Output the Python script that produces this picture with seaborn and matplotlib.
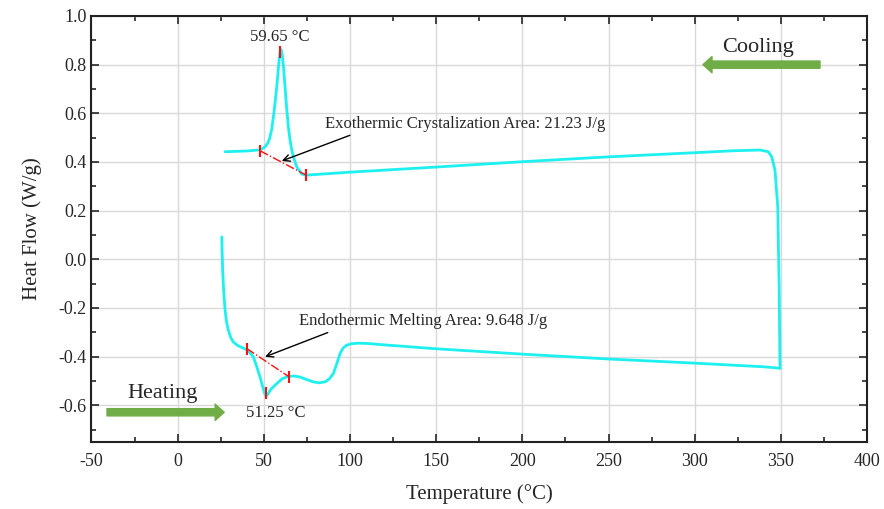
import numpy as np
import pandas as pd
import matplotlib
matplotlib.use("Agg")
import matplotlib.pyplot as plt
import seaborn as sns
from matplotlib.ticker import MultipleLocator

# ---------------- data ----------------
heat_T = [25.6, 25.8, 26.1, 26.7, 27.5, 28.3, 29.4, 30.8, 32.3, 34.5, 37.0, 40.1,
          42.0, 43.9, 45.8, 47.8, 49.5, 50.5, 51.25, 52.3, 54.0, 57.5, 60.5, 64.2,
          67.5, 71.0, 75.0, 78.7, 82.0, 85.5, 88.0, 90.3, 92.3, 94.2, 96.0, 98.1,
          101.0, 105.0, 109.7, 120.0, 150.0, 200.0, 250.0, 300.0, 340.0, 349.5]
heat_HF = [0.092, 0.03, -0.045, -0.13, -0.209, -0.255, -0.292, -0.322, -0.340, -0.353,
           -0.362, -0.372, -0.385, -0.401, -0.44, -0.484, -0.528, -0.552, -0.563, -0.555,
           -0.535, -0.511, -0.492, -0.481, -0.480, -0.484, -0.495, -0.504, -0.508, -0.504,
           -0.492, -0.470, -0.43, -0.388, -0.365, -0.353, -0.347, -0.345, -0.346, -0.352,
           -0.368, -0.390, -0.410, -0.427, -0.442, -0.448]

cool_T = [349.5, 349.0, 348.2, 346.6, 344.7, 342.7, 337.9, 322.4, 303.0, 250.0, 200.0,
          150.0, 100.0, 75.0, 72.0, 69.1, 67.2, 66.2, 65.2, 64.2, 63.2, 62.3, 61.4, 60.7,
          60.0, 59.3, 58.6, 57.5, 56.0, 54.6, 53.3, 52.3, 50.7, 48.5, 46.8, 40.0, 27.5]
cool_HF = [-0.448, -0.113, 0.216, 0.366, 0.421, 0.442, 0.449, 0.446, 0.439, 0.421, 0.401,
           0.379, 0.358, 0.346, 0.350, 0.380, 0.420, 0.449, 0.490, 0.545, 0.625, 0.709, 0.790,
           0.840, 0.862, 0.848, 0.800, 0.709, 0.610, 0.535, 0.495, 0.478, 0.462, 0.452, 0.449,
           0.445, 0.442]

exo_base_T = [47.8, 74.5]
exo_base_HF = [0.446, 0.346]
exo_peak_T = [59.65]
exo_peak_HF = [0.853]

endo_base_T = [40.1, 64.8]
endo_base_HF = [-0.367, -0.484]
endo_peak_T = [51.25]
endo_peak_HF = [-0.55]

x_ticks = [-50, 0, 50, 100, 150, 200, 250, 300, 350, 400]
y_ticks = [-0.6, -0.4, -0.2, 0.0, 0.2, 0.4, 0.6, 0.8, 1.0]

# ---------------- style ----------------
sns.set_style("ticks")
plt.rcParams['font.family'] = ['Liberation Serif', 'DejaVu Serif']
plt.rcParams['mathtext.fontset'] = 'stix'

fig = plt.figure(figsize=(8.84, 5.09), dpi=100)
ax = fig.add_axes([0.1035, 0.1322, 0.8773, 0.8364])

cyan = '#1EF0F0'
green = '#70AD47'
red = '#FF1010'

df_heat = pd.DataFrame({'T': heat_T, 'HF': heat_HF})
df_cool = pd.DataFrame({'T': cool_T, 'HF': cool_HF})
sns.lineplot(data=df_heat, x='T', y='HF', sort=False, color=cyan, lw=2.0, ax=ax, zorder=3)
sns.lineplot(data=df_cool, x='T', y='HF', sort=False, color=cyan, lw=2.0, ax=ax, zorder=3)

# baselines and markers
ax.plot(exo_base_T, exo_base_HF, color=red, ls='-.', lw=1.0, zorder=4)
ax.plot(endo_base_T, endo_base_HF, color=red, ls='-.', lw=1.0, zorder=4)
for xs, ys in [(exo_base_T, exo_base_HF), (exo_peak_T, exo_peak_HF),
               (endo_base_T, endo_base_HF), (endo_peak_T, endo_peak_HF)]:
    ax.plot(xs, ys, ls='none', marker='|', ms=9, mew=1.5, color=red, zorder=5)

# annotations
ax.annotate('Exothermic Crystalization Area: 21.23 J/g', xy=(60.4, 0.404), xytext=(85.5, 0.556),
            fontsize=12, ha='left', va='center',
            arrowprops=dict(arrowstyle='->', color='black', lw=1.0, shrinkA=0, shrinkB=0,
                            relpos=(0.12, 0.0)))
ax.annotate('Endothermic Melting Area: 9.648 J/g', xy=(50.7, -0.401), xytext=(70.4, -0.255),
            fontsize=12, ha='left', va='center',
            arrowprops=dict(arrowstyle='->', color='black', lw=1.0, shrinkA=0, shrinkB=0,
                            relpos=(0.15, 0.0)))
ax.text(59.4, 0.914, '59.65 \u00b0C', fontsize=12, ha='center', va='center')
ax.text(57.0, -0.634, '51.25 \u00b0C', fontsize=12, ha='center', va='center')

# green direction arrows
ax.annotate('', xy=(304.8, 0.8), xytext=(372.7, 0.8),
            arrowprops=dict(arrowstyle='simple,head_length=0.5,head_width=0.9,tail_width=0.4',
                            color=green, shrinkA=0, shrinkB=0, mutation_scale=13))
ax.annotate('', xy=(27.0, -0.629), xytext=(-41.0, -0.629),
            arrowprops=dict(arrowstyle='simple,head_length=0.5,head_width=0.9,tail_width=0.4',
                            color=green, shrinkA=0, shrinkB=0, mutation_scale=13))
ax.text(337, 0.872, 'Cooling', fontsize=16, ha='center', va='center')
ax.text(-9, -0.551, 'Heating', fontsize=16, ha='center', va='center')

# axes
ax.set_xlim(-50, 400)
ax.set_ylim(-0.75, 1.0)
ax.set_xticks(x_ticks)
ax.set_yticks(y_ticks)
ax.set_xticklabels([str(v) for v in x_ticks])
ax.set_yticklabels(['%.1f' % v for v in y_ticks])
ax.xaxis.set_minor_locator(MultipleLocator(25))
ax.yaxis.set_minor_locator(MultipleLocator(0.1))
ax.tick_params(which='both', direction='in', top=True, right=True, width=1.2, labelsize=13)
ax.tick_params(which='major', length=6)
ax.tick_params(which='minor', length=3.5)
ax.tick_params(axis='x', pad=8)
ax.grid(True, which='major', color='#D9D9D9', lw=1.0, zorder=0)
for s in ax.spines.values():
    s.set_linewidth(1.5)
    s.set_color('#222222')
ax.set_xlabel('Temperature (\u00b0C)', fontsize=15, labelpad=10)
ax.set_ylabel('Heat Flow (W/g)', fontsize=15, labelpad=12)

fig.savefig('out.png', dpi=100)
